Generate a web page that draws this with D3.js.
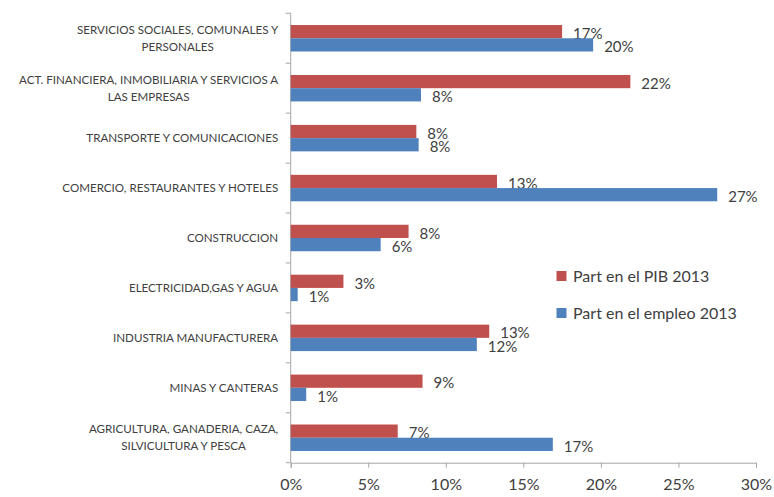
<!DOCTYPE html>
<html>
<head>
<meta charset="utf-8">
<script src="https://cdn.jsdelivr.net/npm/d3@7"></script>
<style>
  body { margin: 0; background: #fff; }
  text { font-family: Lato, 'Open Sans', sans-serif; fill: #404040; }
  .axis path, .axis line { stroke: #a6a6a6; }
</style>
</head>
<body>
<div class="chart"></div>
<script>
const categories = [
  ['SERVICIOS SOCIALES, COMUNALES Y', 'PERSONALES'],
  ['ACT. FINANCIERA, INMOBILIARIA Y SERVICIOS A', 'LAS EMPRESAS'],
  ['TRANSPORTE Y COMUNICACIONES'],
  ['COMERCIO, RESTAURANTES Y HOTELES'],
  ['CONSTRUCCION'],
  ['ELECTRICIDAD,GAS Y AGUA'],
  ['INDUSTRIA MANUFACTURERA'],
  ['MINAS Y CANTERAS'],
  ['AGRICULTURA, GANADERIA, CAZA,', 'SILVICULTURA Y PESCA']
]
const pib = [17.5, 21.9, 8.1, 13.3, 7.6, 3.4, 12.8, 8.5, 6.9]
const empleo = [19.5, 8.4, 8.25, 27.5, 5.8, 0.45, 12.0, 1.0, 16.9]
const pibLabels = ['17%', '22%', '8%', '13%', '8%', '3%', '13%', '9%', '7%']
const empleoLabels = ['20%', '8%', '8%', '27%', '6%', '1%', '12%', '1%', '17%']
const xTicks = [0, 5, 10, 15, 20, 25, 30]
const seriesNames = ['Part en el PIB 2013', 'Part en el empleo 2013']
const colors = ['#c0504d', '#4f81bd']

const margin = { top: 13.3, right: 18, bottom: 34.3, left: 290.7 }
const width = 774 - margin.left - margin.right
const height = 497 - margin.top - margin.bottom

const svg = d3.select('.chart')
  .append('svg')
  .attr('width', 774)
  .attr('height', 497)
  .append('g')
  .attr('transform', `translate(${margin.left},${margin.top})`)

const xScale = d3.scaleLinear()
  .domain([0, 30])
  .range([0, width])

const yScale = d3.scaleBand()
  .domain(d3.range(categories.length))
  .range([0, height])
  .paddingInner(0.47)
  .paddingOuter(0.235)

const inner = d3.scaleBand()
  .domain([0, 1])
  .range([0, yScale.bandwidth()])

// x axis
const xAxis = d3.axisBottom(xScale)
  .tickValues(xTicks)
  .tickSize(5)
  .tickFormat(d => d + '%')

svg.append('g')
  .attr('class', 'x axis')
  .attr('transform', `translate(0,${height})`)
  .call(xAxis)
  .call(g => g.selectAll('text')
    .attr('dy', '1.2em')
    .style('font-size', '16px'))

// y axis: ticks at category boundaries
const step = height / categories.length
svg.append('g')
  .attr('class', 'y axis')
  .call(g => g.append('line')
    .attr('x1', 0).attr('x2', 0)
    .attr('y1', 0).attr('y2', height)
    .attr('stroke', '#a6a6a6'))
  .selectAll('.tk')
  .data(d3.range(categories.length + 1))
  .join('line')
  .attr('x1', -5).attr('x2', 0)
  .attr('y1', d => d * step).attr('y2', d => d * step)
  .attr('stroke', '#a6a6a6')

const series = [pib, empleo]
const labels = [pibLabels, empleoLabels]

series.forEach((values, s) => {
  svg.selectAll(`.bar-${s}`)
    .data(values)
    .join('rect')
    .attr('class', `bar-${s}`)
    .attr('x', 0)
    .attr('y', (d, i) => yScale(i) + inner(s))
    .attr('width', d => xScale(d))
    .attr('height', inner.bandwidth())
    .attr('fill', colors[s])

  svg.selectAll(`.lbl-${s}`)
    .data(values)
    .join('text')
    .attr('class', `lbl-${s}`)
    .attr('x', d => xScale(d) + 11)
    .attr('y', (d, i) => yScale(i) + inner(s) + inner.bandwidth() / 2 + 2)
    .attr('dy', '0.35em')
    .style('font-size', '15px')
    .text((d, i) => labels[s][i])
})

// category labels, multi-line blocks right aligned and centred
const catG = svg.selectAll('.cat')
  .data(categories)
  .join('text')
  .attr('class', 'cat')
  .style('font-size', '11.6px')
  .attr('text-anchor', 'middle')

catG.each(function (lines, i) {
  const t = d3.select(this)
  const cy = yScale(i) + yScale.bandwidth() / 2
  const lh = 16.7
  lines.forEach((line, k) => {
    t.append('tspan')
      .attr('y', cy + (k - (lines.length - 1) / 2) * lh)
      .attr('dy', '0.35em')
      .text(line)
  })
  const maxW = d3.max(t.selectAll('tspan').nodes(), n => n.getComputedTextLength())
  t.selectAll('tspan').attr('x', -12.5 - maxW / 2)
})

// legend
const legend = svg.append('g')
  .attr('transform', `translate(${556.5 - margin.left},${276 - margin.top})`)

seriesNames.forEach((name, s) => {
  const row = legend.append('g')
    .attr('transform', `translate(0,${s * 37})`)
  row.append('rect')
    .attr('x', 0).attr('y', -5)
    .attr('width', 10).attr('height', 10)
    .attr('fill', colors[s])
  row.append('text')
    .attr('x', 16.5)
    .attr('dy', '0.35em')
    .style('font-size', '16px')
    .text(name)
})
</script>
</body>
</html>
